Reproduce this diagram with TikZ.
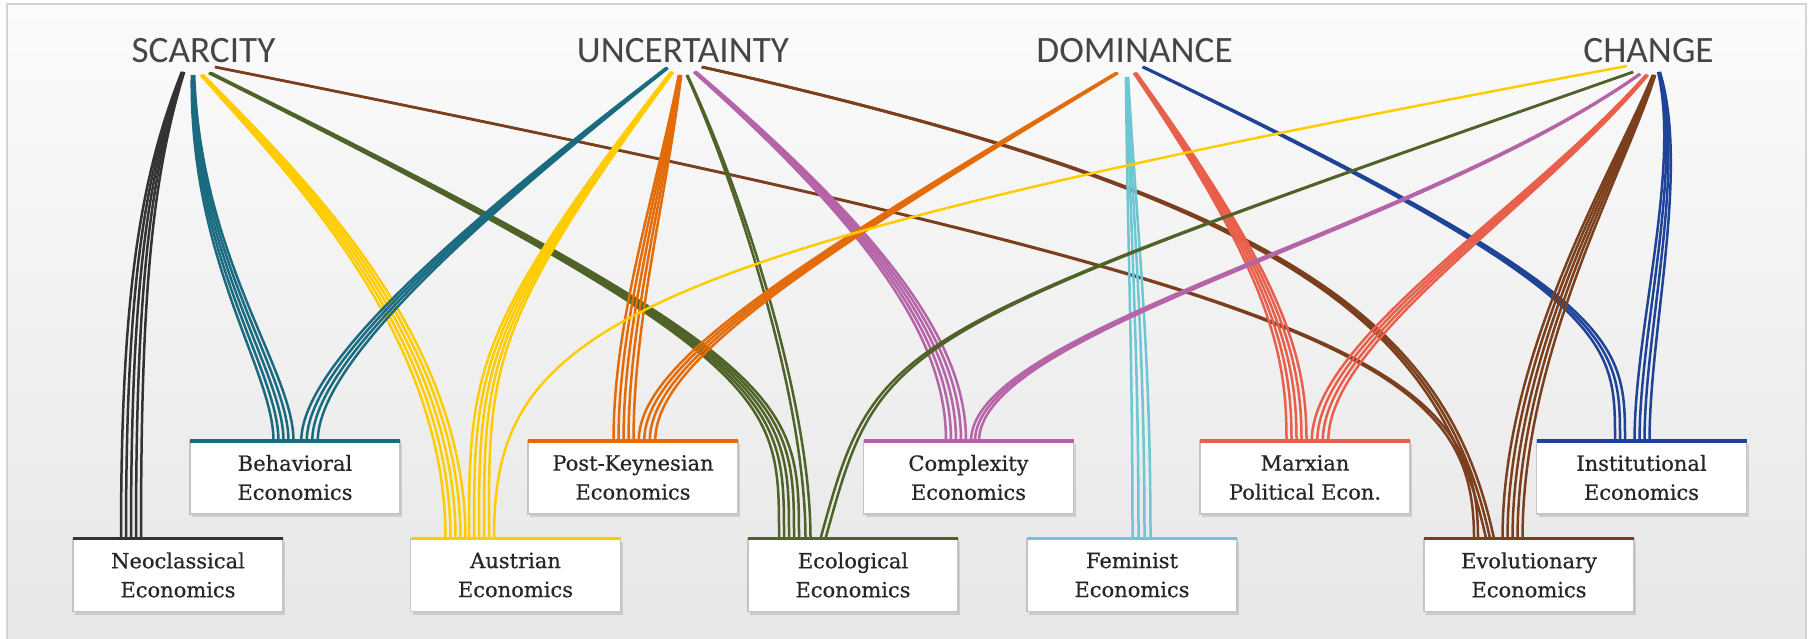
\documentclass[tikz,border=0pt]{standalone}
\usepackage{fontspec}
\setmainfont{DejaVu Serif}
\newfontfamily\titlefont{Carlito}
\usetikzlibrary{calc,shadows}
\definecolor{cNeo}{HTML}{333333}
\definecolor{cBeh}{HTML}{1A6B80}
\definecolor{cAus}{HTML}{FFCC00}
\definecolor{cPK}{HTML}{E36C09}
\definecolor{cEco}{HTML}{4F6228}
\definecolor{cCx}{HTML}{B565A7}
\definecolor{cFem}{HTML}{6DC6D2}
\definecolor{cMx}{HTML}{E8604C}
\definecolor{cEvo}{HTML}{7B3F1E}
\definecolor{cInst}{HTML}{1F4396}
\definecolor{bgtop}{HTML}{FBFBFB}
\definecolor{bgbot}{HTML}{E6E6E6}
\definecolor{framec}{HTML}{D4D4D4}
\definecolor{boxborder}{HTML}{C4C4C4}
\definecolor{txt}{HTML}{262626}
\definecolor{titlec}{HTML}{454545}
\pgfdeclarelayer{bg}
\pgfsetlayers{bg,main}
\tikzset{
  title/.style={anchor=base, inner sep=0pt, text=titlec, font=\titlefont\fontsize{18.6}{20}\selectfont},
  econbox/.style={draw=boxborder, line width=0.6pt, fill=white, minimum width=105pt, minimum height=36.5pt,
    inner sep=0pt, outer sep=0pt, align=center, text=txt,
    font=\addfontfeature{FakeBold=0.5}\fontsize{10.5}{14.5}\selectfont,
    drop shadow={shadow xshift=1pt, shadow yshift=-1.5pt, fill=black, opacity=0.12}},
  strand/.style={line width=1.25pt},
  topbar/.style={line width=1.6pt}
}
% #1 colour, #2 strands, #3 title node, #4 start offset, #5 control 1, #6 control 2,
% #7 box node, #8 end offset from box centre, #9 strand spacing
\newcommand\bnd[9]{%
  \foreach \ii in {1,...,#2}{%
    \pgfmathsetmacro\sdx{(\ii-(#2+1)/2)*#9}%
    \pgfmathsetmacro\sdxa{0.12*\sdx}%
    \pgfmathsetmacro\sdxb{0.6*\sdx}%
    \pgfmathsetmacro\ex{#8+\sdx}%
    \draw[strand,#1] ($(#3.base)+(#4)+(\sdxa,0)$) .. controls ($(#5)+(\sdxb,0)$) and ($(#6)+(\sdx,0)$) .. ($(#7.north)+(\ex,0)$);
  }%
}
\newcommand\topline[2]{\draw[topbar,#2] (#1.north west) -- (#1.north east);}
\begin{document}
\begin{tikzpicture}[x=0.5pt,y=-0.5pt]
\useasboundingbox (0,0) rectangle (1813,638);
\begin{pgfonlayer}{bg}
\fill[white] (0,0) rectangle (1813,638);
\shade[top color=bgtop, bottom color=bgbot, draw=framec, line width=0.8pt] (7,4) rectangle (1806,660);
\end{pgfonlayer}

% titles
\node[title] (scar) at (203.5,62) {SCARCITY};
\node[title] (unc) at (683,62) {UNCERTAINTY};
\node[title] (dom) at (1134.5,62) {DOMINANCE};
\node[title] (chg) at (1648.5,62) {CHANGE};

% boxes
\node[econbox] (beh) at (295,477.5) {Behavioral\\Economics};
\node[econbox] (pk) at (633,477.5) {Post-Keynesian\\Economics};
\node[econbox] (cx) at (968.5,477.5) {Complexity\\Economics};
\node[econbox] (mx) at (1305,477.5) {Marxian\\Political Econ.};
\node[econbox] (inst) at (1641.5,477.5) {Institutional\\Economics};
\node[econbox] (neo) at (178,575) {Neoclassical\\Economics};
\node[econbox] (aus) at (515.5,575) {Austrian\\Economics};
\node[econbox] (eco) at (853,575) {Ecological\\Economics};
\node[econbox] (fem) at (1132,575) {Feminist\\Economics};
\node[econbox] (evo) at (1529,575) {Evolutionary\\Economics};

\topline{beh}{cBeh}
\topline{pk}{cPK}
\topline{cx}{cCx}
\topline{mx}{cMx}
\topline{inst}{cInst}
\topline{neo}{cNeo}
\topline{aus}{cAus}
\topline{eco}{cEco}
\topline{fem}{cFem}
\topline{evo}{cEvo}

\begin{pgfonlayer}{bg}
% SCARCITY
\bnd{cNeo}{5}{scar}{-20.5,10}{145,180}{131,300}{neo}{-47}{5}
\bnd{cBeh}{5}{scar}{-10.5,13}{195,260}{283.5,370}{beh}{-11.5}{5}
\bnd{cAus}{5}{scar}{-1.5,13}{290,170}{455.5,330}{aus}{-60}{5}
\bnd{cEco}{5}{scar}{6.5,11}{789,362}{789,397}{eco}{-64}{5}
\bnd{cEvo}{2}{scar}{11.5,5}{1351,294}{1476,363}{evo}{-53}{4}
% UNCERTAINTY
\bnd{cBeh}{4}{unc}{-16,6}{452,236}{309.5,367}{beh}{14.5}{5.5}
\bnd{cAus}{5}{unc}{-11,10}{479,328}{479,370}{aus}{-36.5}{5}
\bnd{cPK}{5}{unc}{-3,13}{660,200}{623.5,320}{pk}{-9.5}{5}
\bnd{cEco}{2}{unc}{4,13}{740,190}{808,400}{eco}{-45}{5}
\bnd{cCx}{5}{unc}{12,10}{902,252}{956,355}{cx}{-12.5}{5}
\bnd{cEvo}{3}{unc}{19,5}{1300,200}{1445,330}{evo}{-39}{4}
% DOMINANCE
\bnd{cPK}{4}{dom}{-17.5,11}{788,270}{647,364}{pk}{14}{5.5}
\bnd{cFem}{4}{dom}{-7.5,15}{1133,250}{1141.5,350}{fem}{9.5}{6}
\bnd{cMx}{5}{dom}{0.5,11}{1280,280}{1296.5,358}{mx}{-8.5}{5}
\bnd{cInst}{3}{dom}{8.5,5}{1620,296}{1620,339}{inst}{-21.5}{5}
% CHANGE
\bnd{cAus}{1}{chg}{-21.5,4}{608,255}{494,328}{aus}{-21.5}{5}
\bnd{cEco}{2}{chg}{-15.5,10}{879,336}{879,336}{eco}{-30}{5}
\bnd{cCx}{3}{chg}{-8.5,12}{1420,230}{975,330}{cx}{6.5}{4}
\bnd{cMx}{4}{chg}{-1.5,13}{1530,210}{1320,340}{mx}{15}{5.5}
\bnd{cEvo}{5}{chg}{5.5,13}{1620,170}{1512.5,350}{evo}{-16.5}{5}
\bnd{cInst}{4}{chg}{10.5,10}{1685,170}{1642,330}{inst}{0.5}{5}
\end{pgfonlayer}
\end{tikzpicture}
\end{document}
